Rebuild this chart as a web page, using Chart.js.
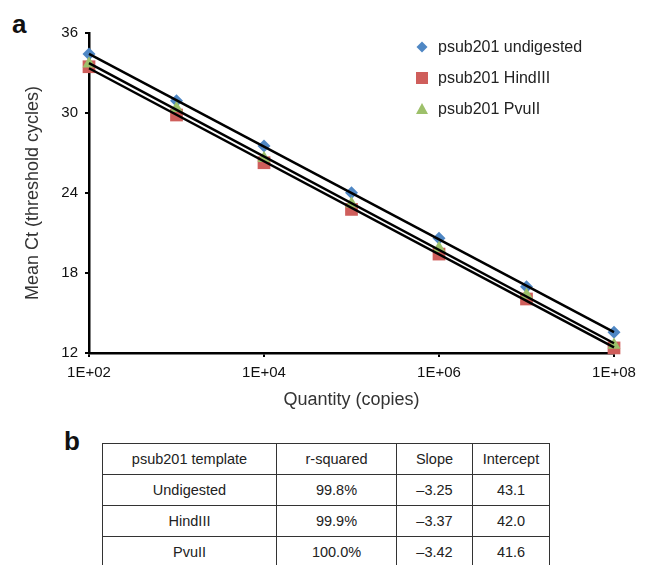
<!DOCTYPE html>
<html>
<head>
<meta charset="utf-8">
<script src="https://cdn.jsdelivr.net/npm/chart.js@4.4.0/dist/chart.umd.min.js"></script>
<style>
  body { margin: 0; background: #fff; font-family: "Liberation Sans", Arial, sans-serif; }
  #wrap { position: relative; width: 648px; height: 565px; overflow: hidden; }
  #chartBox { position: absolute; left: 0; top: 0; width: 648px; height: 420px; }
  .panel { position: absolute; font-weight: bold; font-size: 26px; color: #111; line-height: 1; }
  #tbl { position: absolute; left: 102px; top: 443px; border-collapse: collapse; font-size: 14.5px; color: #222; }
  #tbl td { border: 1px solid #333; text-align: center; height: 30px; padding: 0; }
</style>
</head>
<body>
<div id="wrap">
  <div class="panel" style="left:12px; top:11px;">a</div>
  <div id="chartBox"><canvas id="qpcrChart"></canvas></div>
  <div class="panel" style="left:64px; top:428px;">b</div>
  <table id="tbl">
    <colgroup>
      <col style="width:174px"><col style="width:120px"><col style="width:76px"><col style="width:77px">
    </colgroup>
    <tbody id="tblBody"></tbody>
  </table>
</div>
<script>
// ---------- data ----------
const quantities = [1e2, 1e3, 1e4, 1e5, 1e6, 1e7, 1e8];
const undigested = [34.42, 30.92, 27.52, 24.02, 20.60, 16.97, 13.55];
const hindIII    = [33.47, 29.85, 26.27, 22.77, 19.42, 16.05, 12.38];
const pvuII      = [33.70, 30.35, 26.60, 23.20, 19.85, 16.35, 12.60];
const seriesNames = ['psub201 undigested', 'psub201 HindIII', 'psub201 PvuII'];
const xTicks = [1e2, 1e4, 1e6, 1e8];
const yMin = 12, yMax = 36, yStep = 6;

const tableHeader = ['psub201 template', 'r-squared', 'Slope', 'Intercept'];
const tableRows = [
    ['Undigested', '99.8%', '\u20133.25', '43.1'],
    ['HindIII', '99.9%', '\u20133.37', '42.0'],
    ['PvuII', '100.0%', '\u20133.42', '41.6']
];

// ---------- table ----------
const body = document.getElementById('tblBody');
[tableHeader].concat(tableRows).forEach(function (row) {
    const tr = document.createElement('tr');
    row.forEach(function (cell) {
        const td = document.createElement('td');
        td.textContent = cell;
        tr.appendChild(td);
    });
    body.appendChild(tr);
});

// ---------- chart ----------
function toPoints(ys) {
    return quantities.map((q, i) => ({ x: q, y: ys[i] }));
}

// least squares fit of Ct against log10(quantity), like the Excel trendline
function trendline(ys) {
    const xs = quantities.map(q => Math.log10(q));
    const n = xs.length;
    const mx = xs.reduce((a, b) => a + b, 0) / n;
    const my = ys.reduce((a, b) => a + b, 0) / n;
    let sxy = 0, sxx = 0;
    xs.forEach((x, i) => { sxy += (x - mx) * (ys[i] - my); sxx += (x - mx) * (x - mx); });
    const slope = sxy / sxx;
    const icpt = my - slope * mx;
    const first = quantities[0], last = quantities[n - 1];
    return [
        { x: first, y: icpt + slope * Math.log10(first) },
        { x: last, y: icpt + slope * Math.log10(last) }
    ];
}

function lineSet(ys) {
    return {
        type: 'line', data: trendline(ys), showLine: true,
        borderColor: '#000', borderWidth: 2.5, pointRadius: 0,
        order: 0, clip: false, inLegend: false
    };
}

const colors = ['#4f87c4', '#cf5e5b', '#9dc06a'];
const styles = ['rectRot', 'rect', 'triangle'];
const radii = [6.5, 9, 7.5];
const orders = [3, 2, 1];

const pointSets = [undigested, hindIII, pvuII].map((ys, i) => ({
    label: seriesNames[i],
    data: toPoints(ys),
    pointStyle: styles[i],
    pointRadius: radii[i],
    backgroundColor: colors[i],
    borderColor: colors[i],
    borderWidth: 0,
    order: orders[i],
    clip: false,
    inLegend: true
}));

function drawMarker(ctx, style, x, y, color) {
    ctx.fillStyle = color;
    ctx.beginPath();
    if (style === 'rectRot') {
        ctx.moveTo(x, y - 5.5); ctx.lineTo(x + 5.5, y); ctx.lineTo(x, y + 5.5); ctx.lineTo(x - 5.5, y);
    } else if (style === 'rect') {
        ctx.rect(x - 6, y - 6, 12, 12);
    } else {
        ctx.moveTo(x, y - 6); ctx.lineTo(x + 6, y + 5); ctx.lineTo(x - 6, y + 5);
    }
    ctx.closePath();
    ctx.fill();
}

const sideLegend = {
    id: 'sideLegend',
    afterDraw(chart) {
        const ctx = chart.ctx;
        const items = chart.data.datasets.filter(d => d.inLegend);
        ctx.save();
        ctx.font = '16px "Liberation Sans", Arial, sans-serif';
        ctx.textBaseline = 'middle';
        items.forEach((ds, i) => {
            const y = 47 + i * 31;
            drawMarker(ctx, ds.pointStyle, 422, y, ds.backgroundColor);
            ctx.fillStyle = '#222';
            ctx.fillText(ds.label, 438, y + 1);
        });
        ctx.restore();
    }
};

const fontFam = '"Liberation Sans", Arial, sans-serif';

new Chart(document.getElementById('qpcrChart'), {
    type: 'scatter',
    data: {
        datasets: [lineSet(undigested), lineSet(hindIII), lineSet(pvuII)].concat(pointSets)
    },
    options: {
        responsive: true,
        maintainAspectRatio: false,
        animation: false,
        layout: { padding: { left: 22, top: 33, right: 34, bottom: 9 } },
        plugins: {
            legend: { display: false },
            tooltip: { enabled: false }
        },
        scales: {
            x: {
                type: 'logarithmic',
                min: 1e2,
                max: 1e8,
                afterBuildTicks: scale => { scale.ticks = xTicks.map(v => ({ value: v })); },
                afterFit: scale => { scale.height = 58; },
                ticks: {
                    color: '#111',
                    font: { family: fontFam, size: 15 },
                    padding: 7,
                    maxRotation: 0,
                    callback: v => '1E+' + String(Math.round(Math.log10(v))).padStart(2, '0')
                },
                grid: { drawOnChartArea: false, color: '#000', lineWidth: 2, tickLength: 4 },
                border: { color: '#000', width: 2.5 },
                title: {
                    display: true, text: 'Quantity (copies)', color: '#333',
                    font: { family: fontFam, size: 18 }, padding: 0
                }
            },
            y: {
                min: yMin,
                max: yMax,
                afterFit: scale => { scale.width = 67; },
                ticks: {
                    stepSize: yStep,
                    color: '#111',
                    font: { family: fontFam, size: 15 },
                    padding: 7
                },
                grid: { drawOnChartArea: false, color: '#000', lineWidth: 2, tickLength: 4 },
                border: { color: '#000', width: 2.5 },
                title: {
                    display: true, text: 'Mean Ct (threshold cycles)', color: '#333',
                    font: { family: fontFam, size: 18 }, padding: 0
                }
            }
        }
    },
    plugins: [sideLegend]
});
</script>
</body>
</html>
